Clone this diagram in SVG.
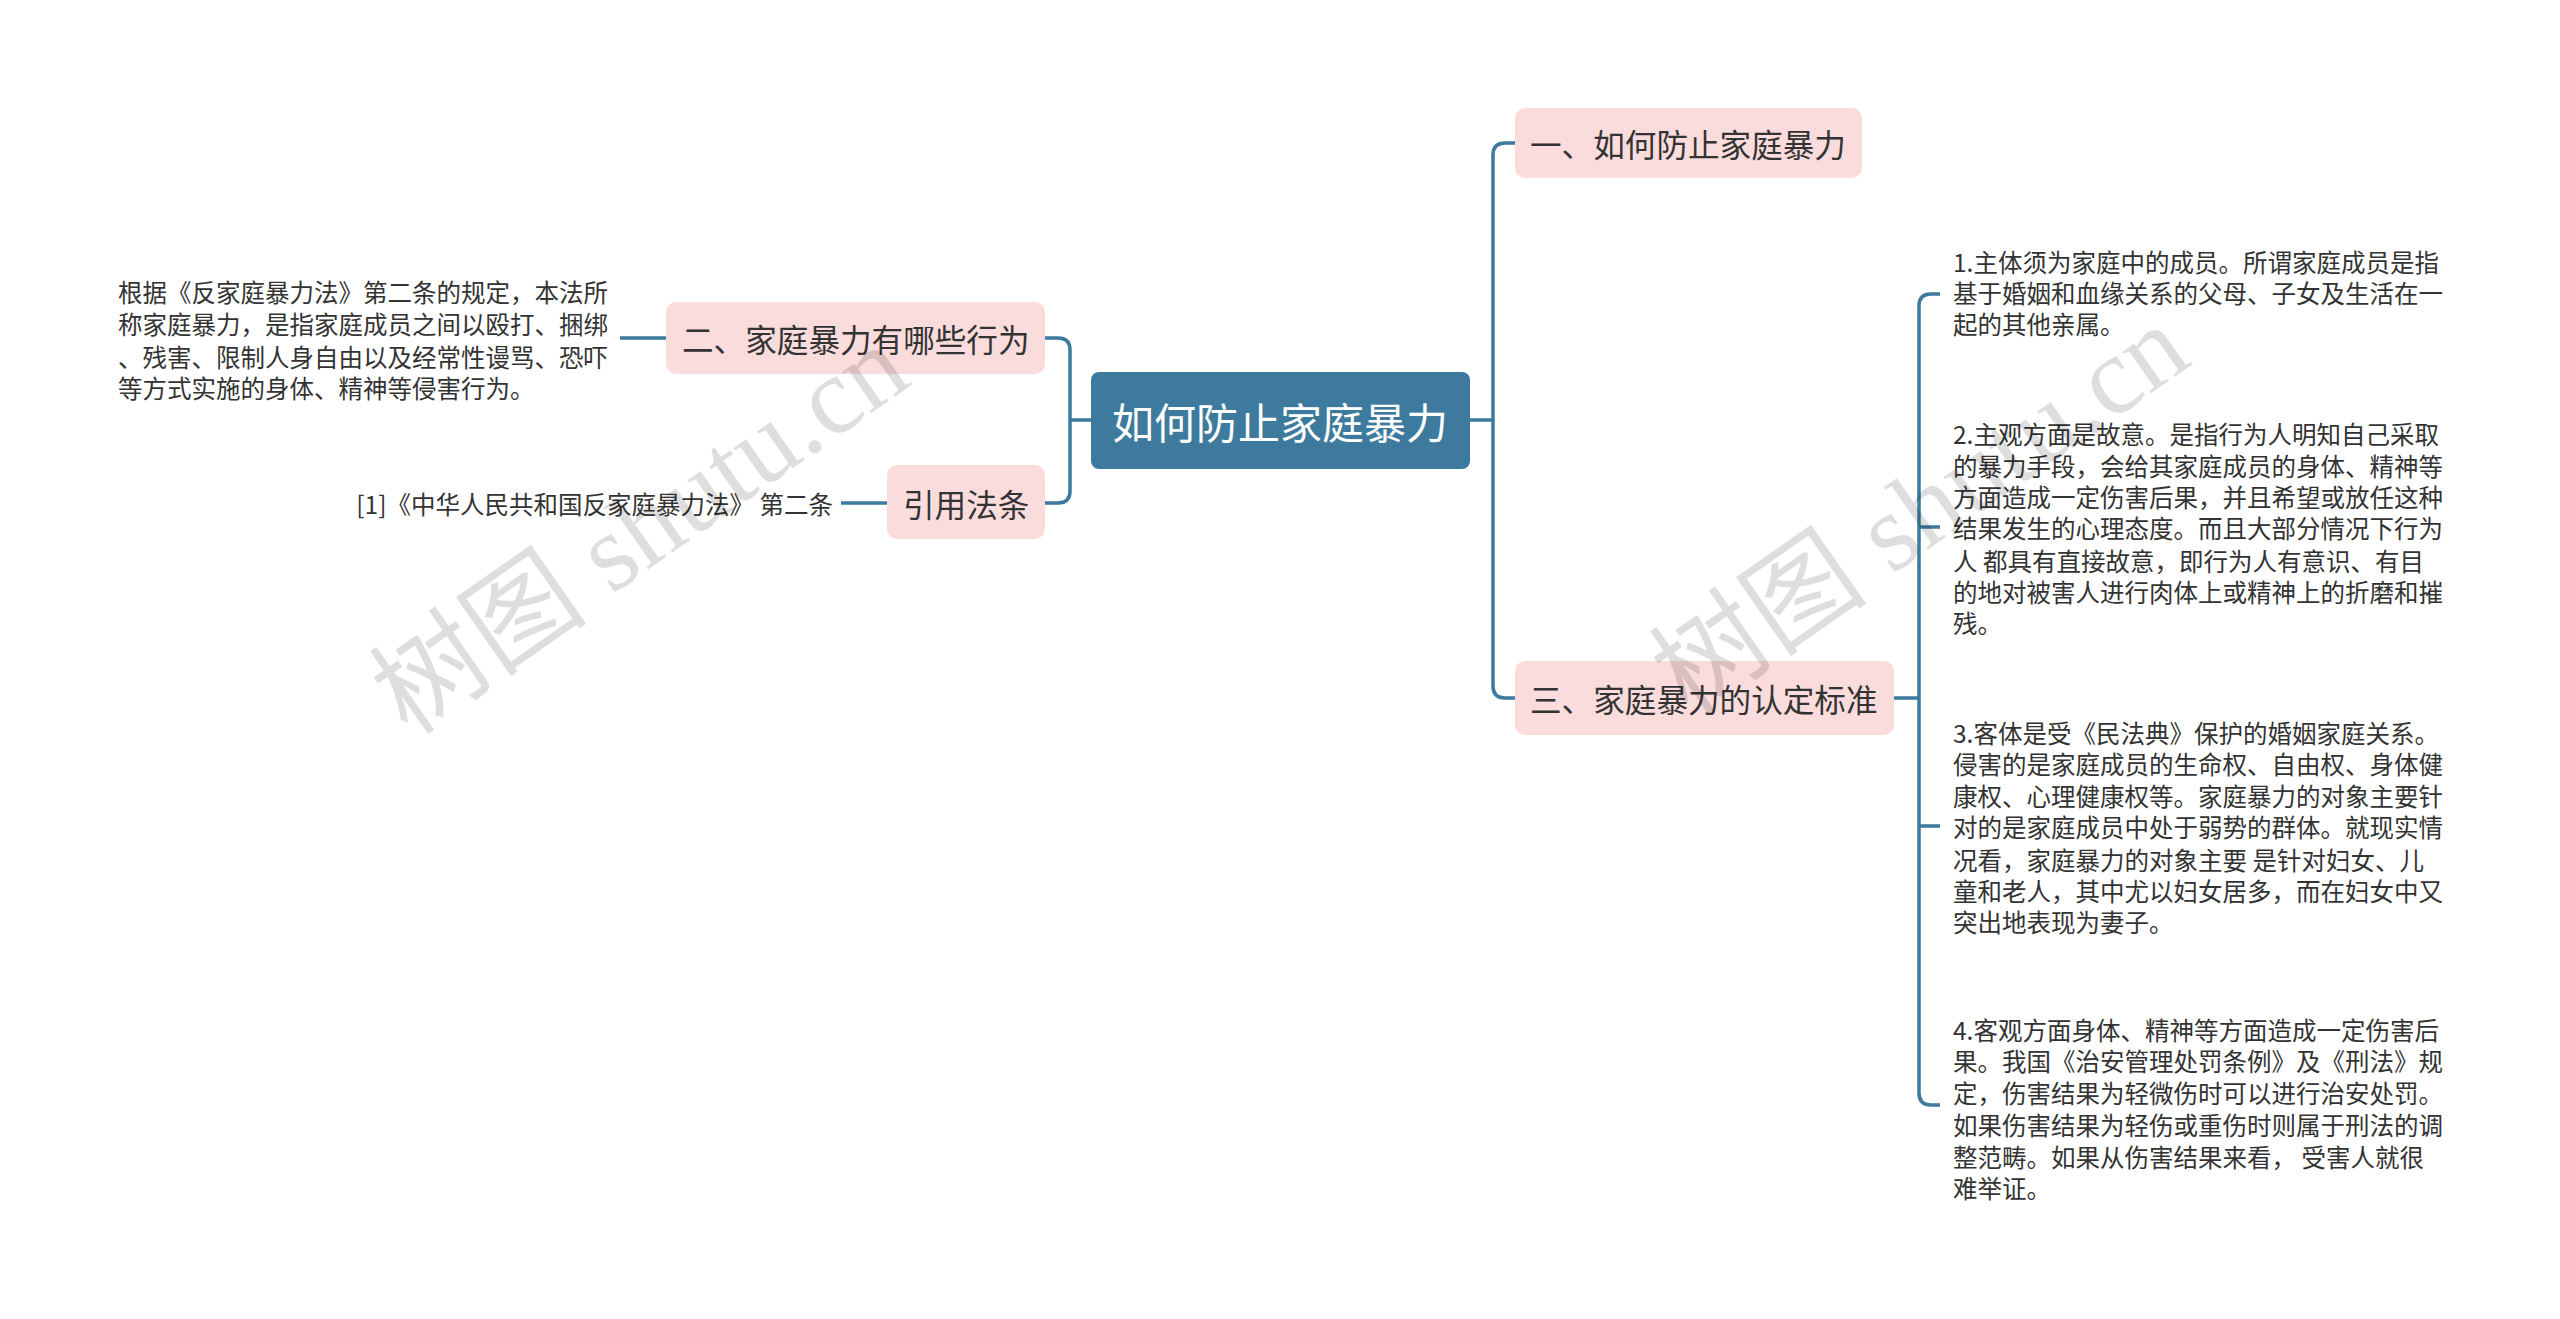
<svg xmlns="http://www.w3.org/2000/svg" width="2560" height="1319" viewBox="0 0 2560 1319">
<style>
text{font-family:"Noto Sans CJK SC","Noto Sans",sans-serif;dominant-baseline:central;fill:#333}
.n{fill:#fadcdc}
.nt{font-size:31.6px}
.t{font-size:24.5px}
.c{fill:none;stroke:#3d7a9e;stroke-width:3.5}
.wm{font-family:"Liberation Serif","Noto Sans CJK SC",serif;font-size:110px;fill:#000;fill-opacity:0.13}
</style>
<rect width="2560" height="1319" fill="#fff"/>
<g id="connectors">
<path class="c" d="M1091 420H1070M1045 338H1058Q1070 338 1070 350V491Q1070 503 1058 503H1045"/>
<path class="c" d="M620 338H666M841 503H887"/>
<path class="c" d="M1470 420H1493M1515 143H1505Q1493 143 1493 155V686Q1493 698 1505 698H1515"/>
<path class="c" d="M1894 698H1919M1940 294H1931Q1919 294 1919 306V1093Q1919 1105 1931 1105H1940M1919 527H1940M1919 826H1940"/>
</g>
<g id="root"><rect x="1091" y="372" width="379" height="97" rx="8" fill="#3d7a9e"/><text x="1280" y="420" text-anchor="middle" style="font-size:42px;fill:#fff">如何防止家庭暴力</text></g>
<g id="n1"><rect class="n" x="1515" y="108" width="347" height="70" rx="10"/><text class="nt" x="1530" y="143">一、如何防止家庭暴力</text></g>
<g id="n3"><rect class="n" x="1515" y="661" width="379" height="74" rx="10"/><text class="nt" x="1530" y="698">三、家庭暴力的认定标准</text></g>
<g id="n2"><rect class="n" x="666" y="302" width="379" height="72" rx="10"/><text class="nt" x="682" y="338">二、家庭暴力有哪些行为</text></g>
<g id="n4"><rect class="n" x="887" y="465" width="158" height="74" rx="10"/><text class="nt" x="903" y="503">引用法条</text></g>
<g id="l1"><text class="t" x="118" y="291">根据《反家庭暴力法》第二条的规定，本法所</text><text class="t" x="118" y="323">称家庭暴力，是指家庭成员之间以殴打、捆绑</text><text class="t" x="118" y="356">、残害、限制人身自由以及经常性谩骂、恐吓</text><text class="t" x="118" y="387">等方式实施的身体、精神等侵害行为。</text></g>
<g id="l2"><text class="t" x="833" y="503" text-anchor="end">[1]《中华人民共和国反家庭暴力法》 第二条</text></g>
<g id="r1"><text class="t" x="1953" y="261">1.主体须为家庭中的成员。所谓家庭成员是指</text><text class="t" x="1953" y="292">基于婚姻和血缘关系的父母、子女及生活在一</text><text class="t" x="1953" y="323">起的其他亲属。</text></g>
<g id="r2"><text class="t" x="1953" y="433">2.主观方面是故意。是指行为人明知自己采取</text><text class="t" x="1953" y="465">的暴力手段，会给其家庭成员的身体、精神等</text><text class="t" x="1953" y="496">方面造成一定伤害后果，并且希望或放任这种</text><text class="t" x="1953" y="527">结果发生的心理态度。而且大部分情况下行为</text><text class="t" x="1953" y="560">人 都具有直接故意，即行为人有意识、有目</text><text class="t" x="1953" y="591">的地对被害人进行肉体上或精神上的折磨和摧</text><text class="t" x="1953" y="622">残。</text></g>
<g id="r3"><text class="t" x="1953" y="732">3.客体是受《民法典》保护的婚姻家庭关系。</text><text class="t" x="1953" y="763">侵害的是家庭成员的生命权、自由权、身体健</text><text class="t" x="1953" y="795">康权、心理健康权等。家庭暴力的对象主要针</text><text class="t" x="1953" y="826">对的是家庭成员中处于弱势的群体。就现实情</text><text class="t" x="1953" y="859">况看，家庭暴力的对象主要 是针对妇女、儿</text><text class="t" x="1953" y="890">童和老人，其中尤以妇女居多，而在妇女中又</text><text class="t" x="1953" y="921">突出地表现为妻子。</text></g>
<g id="r4"><text class="t" x="1953" y="1029">4.客观方面身体、精神等方面造成一定伤害后</text><text class="t" x="1953" y="1060">果。我国《治安管理处罚条例》及《刑法》规</text><text class="t" x="1953" y="1092">定，伤害结果为轻微伤时可以进行治安处罚。</text><text class="t" x="1953" y="1124">如果伤害结果为轻伤或重伤时则属于刑法的调</text><text class="t" x="1953" y="1156">整范畴。如果从伤害结果来看， 受害人就很</text><text class="t" x="1953" y="1187">难举证。</text></g>
<g id="watermarks">
<text class="wm" x="640" y="530" text-anchor="middle" transform="rotate(-35 640 530)">树图 shutu.cn</text>
<text class="wm" x="1920" y="510" text-anchor="middle" transform="rotate(-35 1920 510)">树图 shutu.cn</text>
</g>
</svg>
